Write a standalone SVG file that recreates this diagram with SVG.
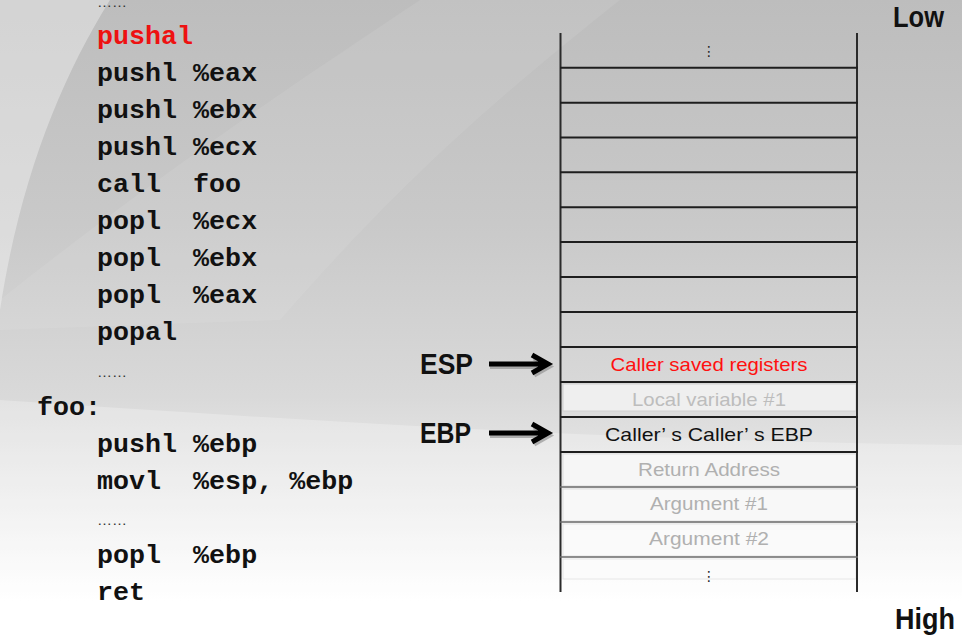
<svg xmlns="http://www.w3.org/2000/svg" width="962" height="639" viewBox="0 0 962 639">
<defs>
<linearGradient id="bg" x1="0" y1="0" x2="0" y2="1">
<stop offset="0" stop-color="#bdbdbd"/>
<stop offset="0.35" stop-color="#c9c9c9"/>
<stop offset="0.62" stop-color="#d9d9d9"/>
<stop offset="0.8" stop-color="#eeeeee"/>
<stop offset="0.94" stop-color="#ffffff"/>
<stop offset="1" stop-color="#ffffff"/>
</linearGradient>
</defs>
<style>
.code{font-family:"Liberation Mono","Courier New",monospace;font-weight:bold;font-size:26.7px;fill:#111;}
.dots{font-family:"Liberation Sans",Arial,sans-serif;font-size:15px;fill:#333;}
.big{font-family:"Liberation Sans",Arial,sans-serif;font-weight:bold;font-size:29px;fill:#111;}
.cell{font-family:"Liberation Sans",Arial,sans-serif;font-size:19px;text-anchor:middle;}
.vd{font-family:"DejaVu Sans",sans-serif;font-size:14px;text-anchor:middle;fill:#222;}
.sep{stroke:#1e1e1e;stroke-width:2;}
.sepl{stroke:#6a6a6a;stroke-width:1.6;}
.side{stroke:#2a2a2a;stroke-width:2;}
.shaft{stroke:#000;stroke-width:5;fill:none;}
.shadow{stroke:#888;stroke-width:5;fill:none;opacity:0.6;}
</style>
<rect width="962" height="639" fill="url(#bg)"/>
<path d="M0,0 L110,0 C60,80 20,180 0,310 Z" fill="#ffffff" opacity="0.35"/>
<path d="M420,0 L620,0 C520,80 420,160 280,320 L0,330 L0,300 C150,180 300,80 420,0 Z" fill="#ffffff" opacity="0.08"/>
<path d="M0,400 C300,420 600,440 962,445 L962,639 L0,639 Z" fill="#ffffff" opacity="0.25"/>

<g id="code">
<text class="dots" x="97" y="7" font-size="12" textLength="30" lengthAdjust="spacingAndGlyphs">……</text>
<text class="code" x="97" y="43.5" style="fill:#ee1111">pushal</text>
<text class="code" x="97" y="80.6">pushl %eax</text>
<text class="code" x="97" y="117.7">pushl %ebx</text>
<text class="code" x="97" y="154.8">pushl %ecx</text>
<text class="code" x="97" y="191.9" xml:space="preserve">call  foo</text>
<text class="code" x="97" y="229" xml:space="preserve">popl  %ecx</text>
<text class="code" x="97" y="266.1" xml:space="preserve">popl  %ebx</text>
<text class="code" x="97" y="303.2" xml:space="preserve">popl  %eax</text>
<text class="code" x="97" y="340.3">popal</text>
<text class="dots" x="97" y="377">……</text>
<text class="code" x="37" y="414.5">foo:</text>
<text class="code" x="97" y="451.6">pushl %ebp</text>
<text class="code" x="97" y="488.7" xml:space="preserve">movl  %esp, %ebp</text>
<text class="dots" x="97" y="525">……</text>
<text class="code" x="97" y="562.9" xml:space="preserve">popl  %ebp</text>
<text class="code" x="97" y="600">ret</text>
</g>

<g id="stack">
<rect x="563" y="384" width="293" height="27" fill="#efefef" stroke="#d0d0d0" stroke-width="1"/>
<rect x="563" y="454" width="293" height="32" fill="#f6f6f6" stroke="#dddddd" stroke-width="1"/>
<rect x="563" y="489" width="293" height="32" fill="#f8f8f8" stroke="#e0e0e0" stroke-width="1"/>
<rect x="563" y="524" width="293" height="32" fill="#fafafa" stroke="#e4e4e4" stroke-width="1"/>
<rect x="563" y="559" width="293" height="20" fill="#fbfbfb" stroke="#e6e6e6" stroke-width="1"/>
<line class="side" x1="560.5" y1="33" x2="560.5" y2="592"/>
<line class="side" x1="857" y1="33" x2="857" y2="592"/>
<line class="sep" x1="560" y1="67.7" x2="858" y2="67.7"/>
<line class="sep" x1="560" y1="102.7" x2="858" y2="102.7"/>
<line class="sep" x1="560" y1="137.5" x2="858" y2="137.5"/>
<line class="sep" x1="560" y1="172.3" x2="858" y2="172.3"/>
<line class="sep" x1="560" y1="207.2" x2="858" y2="207.2"/>
<line class="sep" x1="560" y1="242" x2="858" y2="242"/>
<line class="sep" x1="560" y1="277" x2="858" y2="277"/>
<line class="sep" x1="560" y1="312" x2="858" y2="312"/>
<line class="sep" x1="560" y1="347" x2="858" y2="347"/>
<line class="sep" x1="560" y1="382" x2="858" y2="382"/>
<line class="sep" x1="560" y1="417" x2="858" y2="417"/>
<line class="sep" x1="560" y1="452" x2="858" y2="452"/>
<line class="sepl" x1="560" y1="487" x2="858" y2="487"/>
<line class="sepl" x1="560" y1="522" x2="858" y2="522"/>
<line class="sepl" x1="560" y1="557" x2="858" y2="557"/>
</g>

<g id="cells">
<text class="vd" x="709" y="56">⋮</text>
<text class="cell" x="709" y="371" fill="#ff1010" textLength="197" lengthAdjust="spacingAndGlyphs">Caller saved registers</text>
<text class="cell" x="709" y="406" fill="#bdbdbd" textLength="154" lengthAdjust="spacingAndGlyphs">Local variable #1</text>
<text class="cell" x="709" y="441" fill="#111" textLength="208" lengthAdjust="spacingAndGlyphs">Caller’ s Caller’ s EBP</text>
<text class="cell" x="709" y="476" fill="#b0b0b0" textLength="142" lengthAdjust="spacingAndGlyphs">Return Address</text>
<text class="cell" x="709" y="510" fill="#b0b0b0" textLength="118" lengthAdjust="spacingAndGlyphs">Argument #1</text>
<text class="cell" x="709" y="545" fill="#b0b0b0" textLength="120" lengthAdjust="spacingAndGlyphs">Argument #2</text>
<text class="vd" x="709" y="581" fill="#333">⋮</text>
</g>

<g id="labels">
<text class="big" x="893" y="27" font-size="28" textLength="51" lengthAdjust="spacingAndGlyphs">Low</text>
<text class="big" x="895" y="629" font-size="28" textLength="60" lengthAdjust="spacingAndGlyphs">High</text>
<text id="esp" class="big" x="420" y="374" textLength="53" lengthAdjust="spacingAndGlyphs">ESP</text>
<text id="ebp" class="big" x="420" y="443" textLength="51" lengthAdjust="spacingAndGlyphs">EBP</text>
</g>

<g id="connectors">
<path class="shadow" d="M490,366.5 L547,366.5 M534,358 L549,366.5 L534,375"/>
<path class="shaft" d="M489,364 L546,364 M532,355 L548,364 L532,373"/>
<path class="shadow" d="M490,435.5 L547,435.5 M534,427 L549,435.5 L534,444"/>
<path class="shaft" d="M489,433 L546,433 M532,424 L548,433 L532,442"/>
</g>
</svg>
